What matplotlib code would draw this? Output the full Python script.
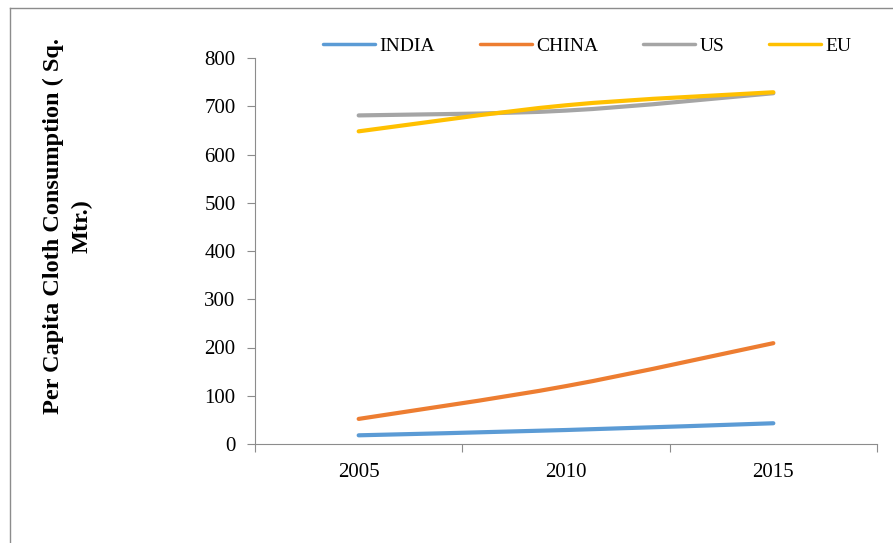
import numpy as np
import matplotlib
matplotlib.use("Agg")
import matplotlib.pyplot as plt
from matplotlib.path import Path
from matplotlib.patches import PathPatch
from matplotlib.lines import Line2D

plt.rcParams['font.family'] = ['Liberation Serif', 'DejaVu Serif']

# datos
years = ["2005", "2010", "2015"]
india = [18, 29, 43]
china = [52, 120, 209]
us = [681, 691, 727]
eu = [648, 702, 729]

series = [("INDIA", india, "#5B9BD5"),
          ("CHINA", china, "#ED7D31"),
          ("US", us, "#A5A5A5"),
          ("EU", eu, "#FFC000")]


def curva_suave(xs, ys):
    # linea suavizada tipo Excel (bezier entre los puntos)
    p = np.column_stack([xs, ys]).astype(float)
    n = len(p)
    verts = [p[0]]
    codes = [Path.MOVETO]
    for i in range(n - 1):
        p0 = p[i - 1] if i > 0 else p[i]
        p3 = p[i + 2] if i + 2 < n else p[i + 1]
        c1 = p[i] + (p[i + 1] - p0) / 6
        c2 = p[i + 1] - (p3 - p[i]) / 6
        verts += [c1, c2, p[i + 1]]
        codes += [Path.CURVE4] * 3
    return Path(verts, codes)


fig = plt.figure(figsize=(8.93, 5.43), dpi=100)

# marco exterior (solo arriba y a la izquierda)
borde_x = 9.5 / 893
borde_y = 1 - 7.5 / 543
fig.add_artist(Line2D([borde_x, 1], [borde_y, borde_y], transform=fig.transFigure,
                      color="#8c8c8c", linewidth=1))
fig.add_artist(Line2D([borde_x, borde_x], [0, borde_y], transform=fig.transFigure,
                      color="#8c8c8c", linewidth=1))

ax = fig.add_axes([255 / 893, 1 - 444 / 543, (877 - 255) / 893, (444 - 58) / 543])

x = np.arange(len(years))
handles = []
for nombre, valores, color in series:
    patch = PathPatch(curva_suave(x, valores), facecolor="none", edgecolor=color,
                      linewidth=3, capstyle="round")
    ax.add_patch(patch)
    handles.append(Line2D([], [], color=color, linewidth=2.5, solid_capstyle="round", label=nombre))

ax.set_xlim(-0.5, len(years) - 0.5)
ax.set_ylim(0, 800)
ax.set_yticks(np.arange(0, 801, 100))
ax.set_xticks(np.arange(-0.5, len(years), 1))
ax.set_xticklabels([])
ax.set_xticks(x, minor=True)
ax.set_xticklabels(years, minor=True)
ax.tick_params(axis="x", which="minor", length=0, pad=14, labelsize=15)
ax.tick_params(axis="x", which="major", length=6, color="#8c8c8c")
ax.tick_params(axis="y", length=6, color="#8c8c8c", labelsize=15, pad=8)

for lado in ["top", "right"]:
    ax.spines[lado].set_visible(False)
for lado in ["left", "bottom"]:
    ax.spines[lado].set_color("#8c8c8c")

fig.legend(handles=handles, loc="center", bbox_to_anchor=(587 / 893, 1 - 46 / 543),
           ncol=4, frameon=False, fontsize=14, handlelength=2.7,
           columnspacing=2.3, handletextpad=0.2)

fig.text(68 / 893, 1 - 226 / 543, "Per Capita Cloth Consumption ( Sq.\nMtr.)",
         rotation=90, ha="center", va="center", fontsize=17.5, fontweight="bold",
         linespacing=1.45)

plt.savefig("out.png", dpi=100)
